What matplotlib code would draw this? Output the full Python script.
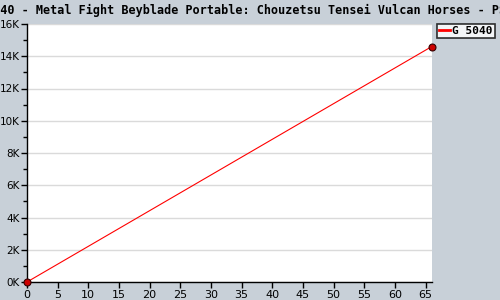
import matplotlib.pyplot as plt
import matplotlib.ticker as ticker

weeks = [0, 66]
units = [0, 14600]
series_name = "G 5040"
title = "5040 - Metal Fight Beyblade Portable: Chouzetsu Tensei Vulcan Horses - PSP"

bg = "#c8d0d8"
fig = plt.figure(figsize=(5, 3), dpi=100, facecolor=bg)
ax = fig.add_axes([0.054, 0.06, 0.8094, 0.86])
ax.set_facecolor("white")

ax.plot(weeks, units, color="#ff0000", linewidth=0.8, marker="o", markersize=5,
        markerfacecolor="#cc0000", markeredgecolor="#330000", markeredgewidth=0.8,
        zorder=3, clip_on=False, label=series_name)

ax.set_xlim(0, 66)
ax.set_ylim(0, 16000)
ax.xaxis.set_major_locator(ticker.MultipleLocator(5))
ax.yaxis.set_major_locator(ticker.MultipleLocator(2000))
ax.yaxis.set_minor_locator(ticker.MultipleLocator(1000))
ax.yaxis.set_major_formatter(ticker.FuncFormatter(lambda v, p: f"{int(v/1000)}K"))

ax.grid(True, which="major", axis="y", color="#dadada", linewidth=1)
ax.set_axisbelow(True)
for s in ["top", "right"]:
    ax.spines[s].set_visible(False)
ax.spines["left"].set_linewidth(1)
ax.spines["bottom"].set_linewidth(1)
ax.tick_params(axis="x", which="major", length=4, width=1, labelsize=8, pad=2)
ax.tick_params(axis="y", which="major", length=4, width=1, labelsize=7.5, pad=1)
ax.tick_params(axis="y", which="minor", length=3, width=1)

fig.text(0.5, 0.965, title, ha="center", va="center",
         family="DejaVu Sans Mono", fontweight="bold", fontsize=8.45)

leg = ax.legend(loc="upper left", bbox_to_anchor=(1.012, 1.0), frameon=True,
                fancybox=False, handlelength=1.0, handletextpad=0.2,
                borderpad=0.2, borderaxespad=0,
                prop={"family": "DejaVu Sans Mono", "weight": "bold", "size": 8})
leg.get_frame().set_edgecolor("black")
leg.get_frame().set_linewidth(1.2)
for h in leg.legend_handles:
    h.set_marker("")
    h.set_linewidth(2)

fig.savefig("out.png", dpi=100, facecolor=bg)
